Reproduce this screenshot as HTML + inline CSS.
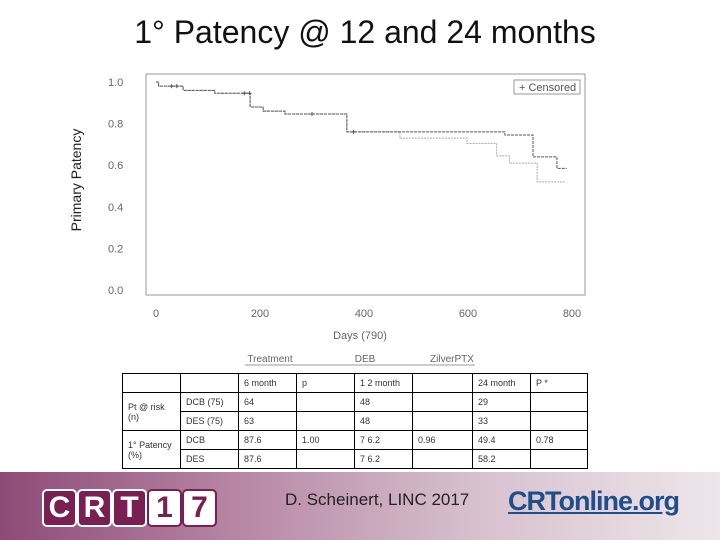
<!DOCTYPE html>
<html><head><meta charset="utf-8"><style>
body{margin:0;width:720px;height:540px;background:#fff;position:relative;overflow:hidden;font-family:"Liberation Sans",sans-serif}
#title{position:absolute;left:0;width:730px;top:14px;text-align:center;font-size:32px;color:#111}
#ylab{position:absolute;left:18px;top:170px;width:120px;transform:rotate(-90deg);text-align:center;font-size:14px;color:#222;transform-origin:60px 10px}
table{position:absolute;left:122px;top:373px;width:465px;table-layout:fixed;border-collapse:collapse;font-size:9px;color:#333}
td{border:1.5px solid #000;padding:0 5px;height:18px;vertical-align:middle;overflow:hidden;white-space:nowrap}
td.wrap{white-space:normal}
#footer{position:absolute;left:0;top:472px;width:720px;height:68px;background:linear-gradient(90deg,#8e4a76 0%,#b98aa8 35%,#d6bfcd 65%,#eee6ea 100%)}
.crt{position:absolute;top:17px;width:31px;height:34px;background:#7a1f52;border:2px solid #fff;border-radius:5px;color:#fff;font-weight:bold;font-size:30px;text-align:center;line-height:34px}
.crt.w{background:#fff;color:#7a1f52;border-color:#7a1f52}
</style></head><body>
<div id="title">1° Patency @ 12 and 24 months</div>
<div id="ylab">Primary Patency</div>
<svg id="chart" width="720" height="372" style="position:absolute;left:0;top:0"></svg>
<table>
<colgroup><col style="width:58px"><col style="width:58px"><col style="width:58px"><col style="width:58px"><col style="width:58px"><col style="width:60px"><col style="width:58px"><col style="width:57px"></colgroup>
<tr><td></td><td></td><td>6 month</td><td>p</td><td>1 2 month</td><td></td><td>24 month</td><td>P *</td></tr>
<tr><td rowspan="2" class="wrap">Pt @ risk (n)</td><td>DCB (75)</td><td>64</td><td></td><td>48</td><td></td><td>29</td><td></td></tr>
<tr><td>DES (75)</td><td>63</td><td></td><td>48</td><td></td><td>33</td><td></td></tr>
<tr><td rowspan="2" class="wrap">1° Patency (%)</td><td>DCB</td><td>87.6</td><td>1.00</td><td>7 6.2</td><td>0.96</td><td>49.4</td><td>0.78</td></tr>
<tr><td>DES</td><td>87.6</td><td></td><td>7 6.2</td><td></td><td>58.2</td><td></td></tr>
</table>
<div id="footer">
<div>
<div class="crt" style="left:42px">C</div><div class="crt" style="left:77px">R</div><div class="crt" style="left:112px">T</div>
<div class="crt w" style="left:147px">1</div><div class="crt w" style="left:182px">7</div>
</div>
<div style="position:absolute;left:285px;top:18px;font-size:17px;color:#222">D. Scheinert, LINC 2017</div>
<div style="position:absolute;left:508px;top:14px;font-size:27px;font-weight:bold;color:#1e4f8a;letter-spacing:-1px"><u>CRTonline.org</u></div>
</div>
<script>
const yTicks=[0.0,0.2,0.4,0.6,0.8,1.0];
const yTickLabels=["0.0","0.2","0.4","0.6","0.8","1.0"];
const xTicks=[0,200,400,600,800];
const timesA=[0,5,52,113,181,206,248,367,671,725,771,790];
const survA=[1.0,0.98,0.96,0.946,0.88,0.86,0.846,0.76,0.745,0.64,0.585,0.585];
const timesB=[0,5,52,113,181,206,248,367,469,533,598,655,680,733,786];
const survB=[1.0,0.98,0.96,0.946,0.88,0.86,0.846,0.76,0.73,0.73,0.705,0.645,0.61,0.52,0.52];
const censA=[30,40,170,180,300,380];
const X=t=>156+t*0.52, Y=s=>290-208*s;
const svg=document.getElementById('chart');const NS='http://www.w3.org/2000/svg';
function mk(tag,attrs,txt){const e=document.createElementNS(NS,tag);for(const k in attrs)e.setAttribute(k,attrs[k]);if(txt!==undefined)e.textContent=txt;svg.appendChild(e);return e;}
let r=mk('rect',{x:146,y:74,width:439,height:221,fill:'none',stroke:'#999','stroke-width':1});


yTicks.forEach((v,i)=>{let t=mk('text',{x:108,y:Y(v)+4,'font-size':11,fill:'#666'},yTickLabels[i]);

});
xTicks.forEach(v=>{let t=mk('text',{x:X(v),y:317,'font-size':11,fill:'#666','text-anchor':'middle'},String(v));

});
let xl=mk('text',{x:360,y:339,'font-size':11,fill:'#666','text-anchor':'middle'},'Days (790)');


let lg=mk('rect',{x:514,y:80,width:66,height:14,fill:'#fff',stroke:'#999'});


let lt=mk('text',{x:519,y:91,'font-size':11,fill:'#555'},'+ Censored');


[['Treatment',270],['DEB',365],['ZilverPTX',452]].forEach(([s,x])=>{let t=mk('text',{x:x,y:362,'font-size':10,fill:'#666','text-anchor':'middle'},s);

});
mk('line',{x1:245,x2:475,y1:365,y2:365,stroke:'#999'});
function step(ts,ss){let d='M'+X(ts[0])+','+Y(ss[0]);for(let i=1;i<ts.length;i++){d+=' H'+X(ts[i])+' V'+Y(ss[i]);}return d;}
let pB=mk('path',{d:step(timesB,survB),fill:'none',stroke:'#aaa','stroke-width':1,'stroke-dasharray':'2,1'});


let pA=mk('path',{d:step(timesA,survA),fill:'none',stroke:'#555','stroke-width':1,'stroke-dasharray':'3,1'});


censA.forEach(t=>{let i=0;while(i+1<timesA.length&&timesA[i+1]<=t)i++;const y=Y(survA[i]);
let c=mk('path',{d:`M${X(t)-2},${y} h4 M${X(t)},${y-2} v4`,stroke:'#555','stroke-width':1});

});
</script>
</body></html>
